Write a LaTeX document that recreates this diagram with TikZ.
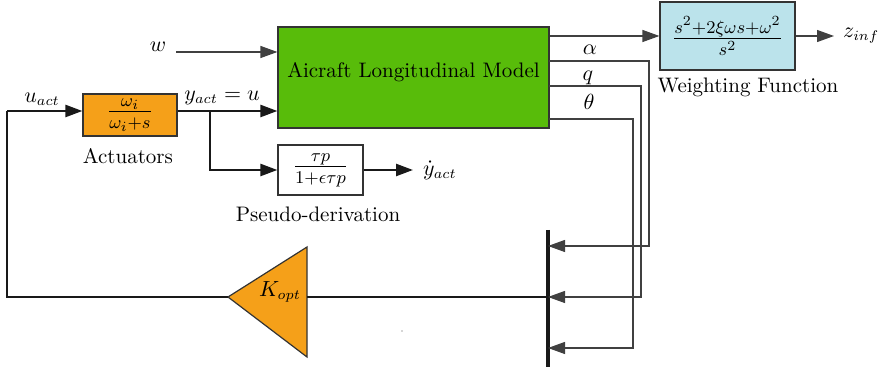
\documentclass[tikz,border=0pt]{standalone}
\usetikzlibrary{arrows.meta,calc}
\definecolor{modelgreen}{RGB}{88,188,10}
\definecolor{actorange}{RGB}{245,160,25}
\definecolor{wblue}{RGB}{187,227,235}
\begin{document}
\begin{tikzpicture}[x=0.5pt,y=-0.5pt,
  every node/.style={font=\fontsize{10.5}{12.6}\selectfont},
  blk/.style={draw=black!80,line width=0.6pt,inner sep=0pt,font=\fontsize{13.5}{16}\selectfont},
  thickline/.style={line width=1.2pt,draw=black!90},
  thinline/.style={line width=0.6pt,draw=black!75},
  arr/.style={-{Triangle[length=8.5pt,width=6pt]}},
  barline/.style={line width=2pt,draw=black!90}]
\useasboundingbox (0,0) rectangle (884,367);
% blocks
\node[draw=black!80,line width=0.6pt,fill=modelgreen,minimum width=135.5pt,minimum height=50.5pt,inner sep=0pt] (model) at (413.5,77.5) {};
\node (modeltxt) at (413.5,72) {Aicraft Longitudinal Model};
\node[blk,fill=actorange,minimum width=47pt,minimum height=21pt] (act) at (130,115) {$\frac{\omega_i}{\omega_i+s}$};
\node[blk,fill=white,minimum width=42.5pt,minimum height=25pt] (pseudo) at (320.5,170) {$\frac{\tau p}{1+\epsilon\tau p}$};
\node[blk,fill=wblue,minimum width=67.5pt,minimum height=34pt] (weight) at (727.5,36) {$\frac{s^2+2\xi\omega s+\omega^2}{s^2}$};
% gain triangle
\coordinate (ktip) at (228,297);
\coordinate (kback) at (307,297);
\coordinate (ktop) at (307,247);
\coordinate (kbot) at (307,357);
\draw[draw=black!80,line width=0.6pt,fill=actorange] (ktip) -- (ktop) -- (kbot) -- cycle;
\node (klbl) at (280,292) {$K_{opt}$};
% bar
\coordinate (bart) at (548,230);
\coordinate (barb) at (548,367);
\draw[barline] (bart) -- (barb);
% labels
\node (wl) at (158,47) {$w$};
\node (ual) at (42,99) {$u_{act}$};
\node (yal) at (222,98) {$y_{act}=u$};
\node (actl) at (128,156) {Actuators};
\node (psl) at (318,214) {Pseudo-derivation};
\node (wfl) at (748,87) {Weighting Function};
\node[anchor=west] (ydl) at (416,170) {$\dot y_{act}$};
\node[anchor=west] (zl) at (836,36) {$z_{inf}$};
\node (al) at (590,50) {$\alpha$};
\node (ql) at (588,78) {$q$};
\node (tl) at (589,102) {$\theta$};
% connectors
\coordinate (uL) at (7,111);
\coordinate (win) at (176,52);
\coordinate (br) at (210,111);
\coordinate (ydend) at (413,170);
\coordinate (zend) at (834,36);
\draw[thickline,arr] (uL) -- (uL -| act.west);
\draw[thickline,arr] (act.east |- uL) -- (model.west |- uL);
\draw[thickline,arr] (br) -- (br |- pseudo.west) -- (pseudo.west);
\draw[thickline,arr] (pseudo.east) -- (ydend);
\draw[thickline] (bart |- kback) -- (kback);
\draw[thickline] (ktip) -- (ktip -| uL) -- (uL);
\draw[thinline,arr] (win) -- (model.west |- win);
\draw[thinline,arr] (model.east |- weight.west) -- (weight.west);
\draw[thinline,arr] (weight.east) -- (zend);
\coordinate (ao) at (549,61);
\coordinate (qo) at (549,86);
\coordinate (to) at (549,119);
\draw[thinline,arr] (ao) -| (649,246) -- (bart |- 0,246);
\draw[thinline,arr] (qo) -| (641,297) -- (bart |- 0,297);
\draw[thinline,arr] (to) -| (633,348) -- (bart |- 0,348);
\fill[black!70] (402,331) circle (0.7);
\end{tikzpicture}
\end{document}
